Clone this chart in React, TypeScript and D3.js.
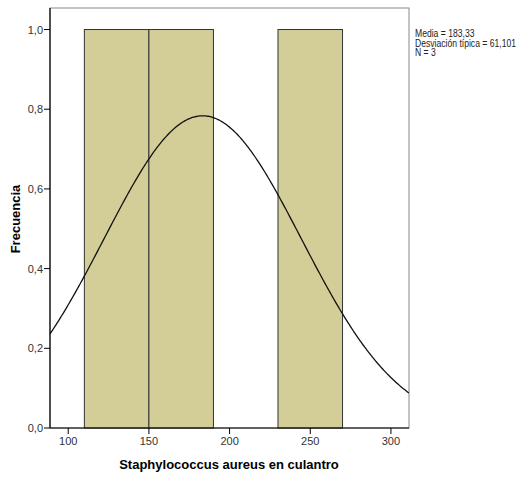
import React from "react";
import * as d3 from "d3";

const binStarts = [110, 150, 230];
const binWidth = 40;
const frequencies = [1, 1, 1];
const xTicks = [100, 150, 200, 250, 300];
const yTicks = [0, 0.2, 0.4, 0.6, 0.8, 1.0];
const mean = 183.33;
const sd = 61.101;
const n = 3;
const legendLines = ["Media = 183,33", "Desviación típica = 61,101", "N = 3"];

export default function App() {
  const W = 525, H = 478;
  const left = 50, right = 409, top = 8, bottom = 428;
  const x = d3.scaleLinear().domain([88.7, 311.2]).range([left, right]);
  const y = d3.scaleLinear().domain([0, 1.054]).range([bottom, top]);
  const fmt = (v: number) => v.toFixed(1).replace(".", ",");

  const curvePts: [number, number][] = [];
  const [d0, d1] = x.domain();
  for (let i = 0; i <= 300; i++) {
    const v = d0 + ((d1 - d0) * i) / 300;
    const dens =
      (n * binWidth) / (sd * Math.sqrt(2 * Math.PI)) *
      Math.exp(-((v - mean) ** 2) / (2 * sd * sd));
    curvePts.push([x(v), y(dens)]);
  }
  const line = d3.line();

  return (
    <svg
      width={W}
      height={H}
      style={{ position: "absolute", left: 0, top: 0, background: "#fff" }}
      fontFamily="'Liberation Sans', Arial, sans-serif"
    >
      <defs>
        <clipPath id="plotclip">
          <rect x={left} y={top} width={right - left} height={bottom - top} />
        </clipPath>
      </defs>
      <rect x={left} y={top} width={right - left} height={bottom - top} fill="#fff" stroke="#888" strokeWidth={1} />
      {binStarts.map((b, i) => (
        <rect
          key={i}
          x={x(b)}
          y={y(frequencies[i])}
          width={x(b + binWidth) - x(b)}
          height={y(0) - y(frequencies[i])}
          fill="#D3CE98"
          stroke="#333"
          strokeWidth={1}
        />
      ))}
      <path d={line(curvePts) || ""} fill="none" stroke="#111" strokeWidth={1.3} clipPath="url(#plotclip)" />
      <line x1={left} x2={left} y1={top} y2={bottom} stroke="#000" strokeWidth={1.2} />
      <line x1={left} x2={right} y1={bottom} y2={bottom} stroke="#000" strokeWidth={1.2} />
      {yTicks.map((t) => (
        <g key={t}>
          <line x1={left - 6} x2={left} y1={y(t)} y2={y(t)} stroke="#000" />
          <text x={left - 7} y={y(t) + 4} fontSize={11} textAnchor="end" fill="#333">{fmt(t)}</text>
        </g>
      ))}
      {xTicks.map((t) => (
        <g key={t}>
          <line x1={x(t)} x2={x(t)} y1={bottom} y2={bottom + 6} stroke="#000" />
          <text x={x(t)} y={bottom + 17} fontSize={11} textAnchor="middle" fill="#333">{t}</text>
        </g>
      ))}
      <text
        transform={`translate(20,219) rotate(-90)`}
        textAnchor="middle"
        fontSize={13}
        fontWeight="bold"
        fill="#000"
      >
        Frecuencia
      </text>
      <text x={229} y={469} textAnchor="middle" fontSize={13} fontWeight="bold" fill="#000">
        Staphylococcus aureus en culantro
      </text>
      <g transform="translate(415,0) scale(0.86,1)">
        {legendLines.map((s, i) => (
          <text key={i} x={0} y={37.5 + i * 9.5} fontSize={10} fill="#222">
            {s}
          </text>
        ))}
      </g>
    </svg>
  );
}
